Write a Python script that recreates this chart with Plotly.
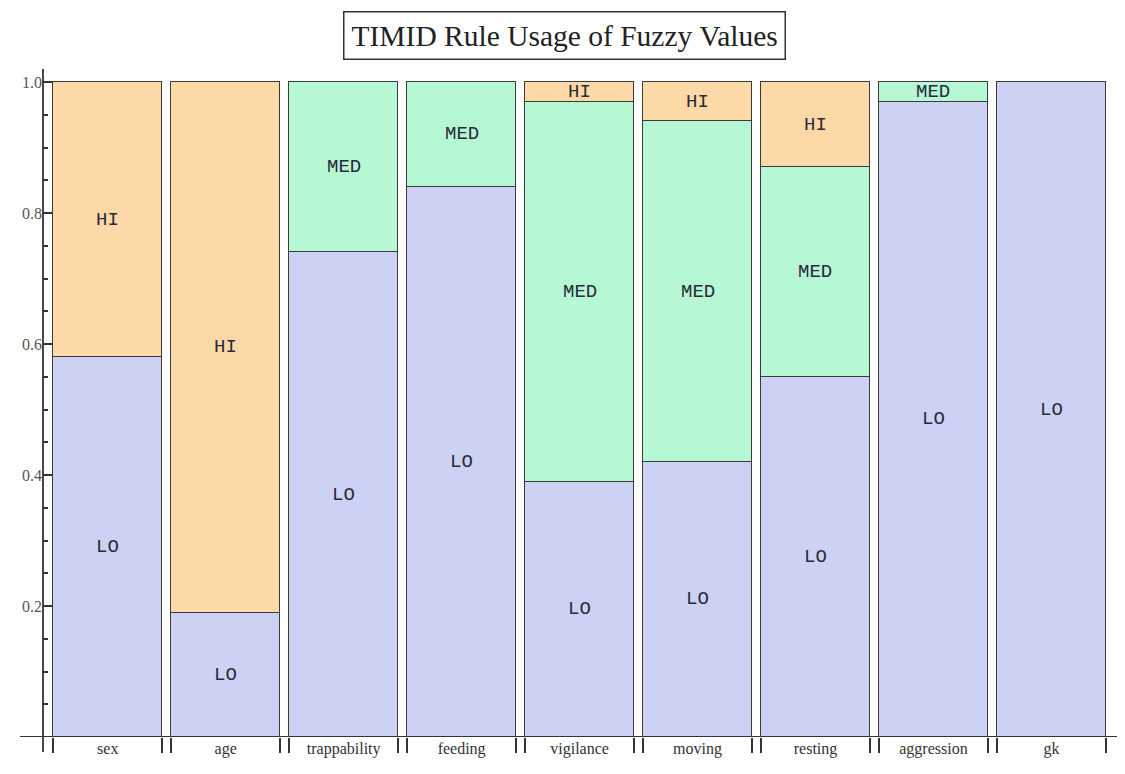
import plotly.graph_objects as go

categories = ["sex", "age", "trappability", "feeding", "vigilance", "moving", "resting", "aggression", "gk"]
lo_vals = [0.58, 0.19, 0.74, 0.84, 0.39, 0.42, 0.55, 0.97, 1.0]
med_vals = [0.0, 0.0, 0.26, 0.16, 0.58, 0.52, 0.32, 0.03, 0.0]
hi_vals = [0.42, 0.81, 0.0, 0.0, 0.03, 0.06, 0.13, 0.0, 0.0]
series = [("LO", lo_vals, "#CDD2F4"), ("MED", med_vals, "#B5F8D3"), ("HI", hi_vals, "#FDD9A7")]
title_text = "TIMID Rule Usage of Fuzzy Values"

# page body has an 8px margin; figure is sized/offset to compensate
OFF = 8
W, H = 1125 - OFF, 774 - OFF
ML, MR, MT, MB = 43 - OFF, 0, 69 - OFF, 37
BAR_W = 0.923
XR = [-0.549, 8.624]
YR = [0, 1.02]

pos = list(range(len(categories)))
fig = go.Figure()
for name, vals, col in series:
    fig.add_trace(go.Bar(
        x=pos, y=[v if v > 0 else None for v in vals], name=name, width=BAR_W,
        marker=dict(color=col, line=dict(color="#3a3a3a", width=1.5)),
        showlegend=False, hoverinfo="skip",
    ))

annots = []
for i in pos:
    base = 0.0
    for name, vals, col in series:
        v = vals[i]
        if v > 0:
            annots.append(dict(x=i, y=base + v / 2, xref="x", yref="y", text=name,
                               showarrow=False,
                               font=dict(family="Liberation Mono", size=19, color="#2a2a3a")))
        base += v

edges = []
for i in pos:
    edges += [i - BAR_W / 2, i + BAR_W / 2]
fig.add_trace(go.Scatter(x=edges, y=[0] * len(edges), xaxis="x2", yaxis="y",
                         mode="markers", marker=dict(opacity=0), hoverinfo="skip",
                         showlegend=False))

pw = W - ML - MR
ph = H - MT - MB
annots.append(dict(
    text=title_text, xref="paper", yref="paper",
    x=(564 - OFF - ML) / pw, y=1 + (MT - (35 - OFF)) / ph,
    xanchor="center", yanchor="middle", showarrow=False,
    font=dict(family="Liberation Serif", size=29.5, color="#222"),
    bordercolor="#333", borderwidth=1.5, borderpad=7, bgcolor="white",
))

fig.update_layout(
    width=W, height=H, barmode="stack", bargap=0,
    margin=dict(l=ML, r=MR, t=MT, b=MB, autoexpand=False),
    paper_bgcolor="white", plot_bgcolor="white",
    xaxis=dict(range=XR, tickvals=pos, ticktext=categories, ticks="", showgrid=False,
               zeroline=False, showline=False, automargin=False,
               tickfont=dict(family="Liberation Serif", size=16, color="#333")),
    xaxis2=dict(range=XR, overlaying="x", anchor="y", side="bottom", tickvals=edges,
                showticklabels=False, ticks="outside", ticklen=15, tickwidth=1.5,
                tickcolor="#333", showgrid=False, zeroline=False, showline=False,
                automargin=False),
    yaxis=dict(range=YR, tick0=0, dtick=0.2, tickformat=".1f", labelalias={"0.0": " "},
               ticks="inside", ticklen=10, tickwidth=1.5, tickcolor="#333",
               minor=dict(dtick=0.05, ticks="inside", ticklen=5, tickwidth=1.5, tickcolor="#333"),
               showgrid=False, zeroline=False, showline=False, automargin=False,
               tickfont=dict(family="Liberation Serif", size=16, color="#555")),
    annotations=annots,
)

fig.add_shape(type="line", xref="paper", yref="y", x0=-(ML - (20 - OFF)) / pw, x1=1, y0=0, y1=0,
              line=dict(color="#333", width=1.8))
fig.add_shape(type="line", xref="paper", yref="paper", x0=0, x1=0, y0=-15 / ph, y1=1.0,
              line=dict(color="#333", width=1.8))

fig.write_html("out.html")
